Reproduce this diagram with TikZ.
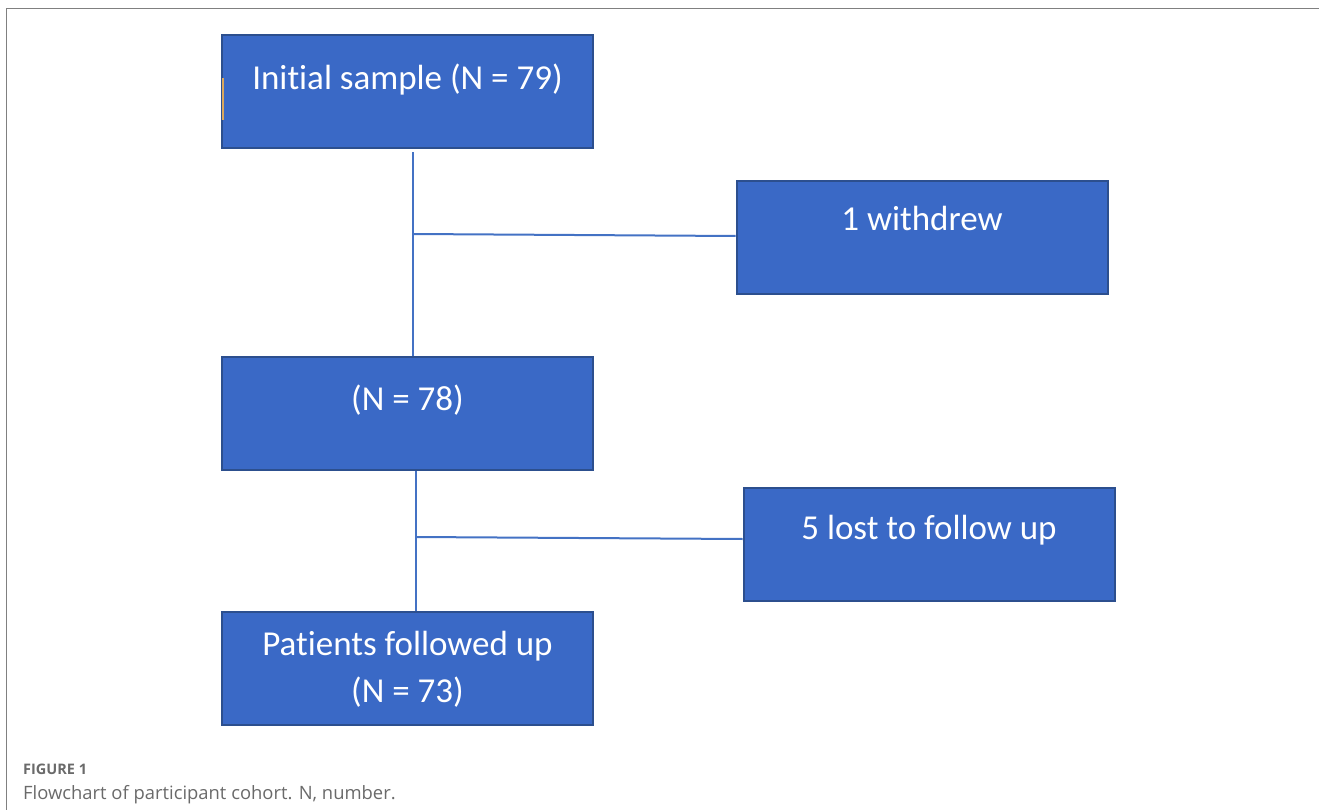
\documentclass[tikz,border=0pt]{standalone}
\usepackage{fontspec}
\setmainfont{Carlito}[Ligatures={NoCommon}]
\newfontfamily\capfont{Open Sans}
\definecolor{boxfill}{HTML}{3A69C6}
\definecolor{boxline}{HTML}{2C4F8E}
\definecolor{connc}{HTML}{4472C4}
\definecolor{framec}{HTML}{808080}
\definecolor{capc}{HTML}{6A6A6A}
\definecolor{markc}{HTML}{D9A85E}
\tikzset{
  box/.style={draw=boxline, line width=2pt, fill=boxfill, minimum width=371pt, minimum height=113pt, inner sep=0pt},
  lbl/.style={text=white, font=\fontsize{35}{40}\selectfont, inner sep=0pt, anchor=base},
  conn/.style={draw=connc, line width=2pt},
  frame/.style={draw=framec, line width=1.5pt},
  capt/.style={text=capc, inner sep=0pt, anchor=base west}
}
\begin{document}
\begin{tikzpicture}[x=1pt,y=-1pt]
\useasboundingbox (0,0) rectangle (1319,810);
\draw[frame] (6.5,810) -- (6.5,8.5) -- (1319,8.5);
% boxes
\node[box] (b1) at (407.5,92) {};
\node[box] (b2) at (922,237.5) {};
\node[box] (b3) at (407.5,413.5) {};
\node[box] (b4) at (929,544.5) {};
\node[box] (b5) at (407.5,668.5) {};
\draw[markc, line width=2pt] (223,78) -- (223,120);
% labels
\node[lbl] (t1) at ([yshift=-55pt]b1.north) {Initial sample (N = 79)};
\node[lbl] (t2) at ([yshift=-51pt]b2.north) {1 withdrew};
\node[lbl] (t3) at ([yshift=-54pt]b3.north) {(N = 78)};
\node[lbl] (t4) at ([yshift=-52pt]b4.north) {5 lost to follow up};
\node[lbl] (t5) at ([yshift=-44pt]b5.north) {Patients followed up};
\node[lbl] (t6) at ([yshift=-91pt]b5.north) {(N = 73)};
% connectors
\coordinate (j1) at (413,234);
\coordinate (j2) at (416,537);
\draw[conn] (j1 |- b1.south) ++(0,3) -- (j1 |- b3.north);
\draw[conn] (j1) -- (b2.west |- 0,236);
\draw[conn] (j2 |- b3.south) -- (j2 |- b5.north);
\draw[conn] (j2) -- (b4.west |- 0,539);
% caption
\node[capt, font=\capfont\bfseries\fontsize{14.5}{17}\selectfont] (c1) at (23,774) {FIGURE 1};
\node[capt, font=\capfont\fontsize{18.4}{22}\selectfont] (c2) at (23,799) {Flowchart of participant cohort. N, number.};
\end{tikzpicture}
\end{document}
